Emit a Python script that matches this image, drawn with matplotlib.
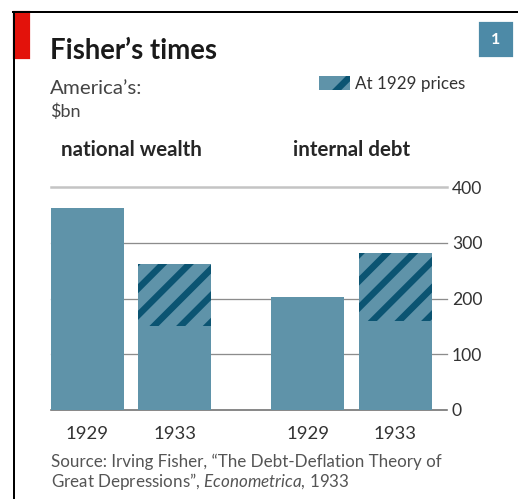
import matplotlib
matplotlib.use("Agg")
import matplotlib.pyplot as plt
import matplotlib.transforms as mtransforms
from matplotlib.patches import Patch, Rectangle
from matplotlib.lines import Line2D

# data ($bn)
groups = ["national wealth", "internal debt"]
years = ["1929", "1933", "1929", "1933"]
current_prices = [362, 150, 203, 160]
at_1929_prices = [362, 262, 203, 282]
yticks = [0, 100, 200, 300, 400]

DPI = 160
W, H = 518, 499


def pt(px):
    # pixel size -> points at this dpi
    return px * 72 / DPI


TEAL = "#5f93a9"
DARK = "#0b5472"

plt.rcParams["font.family"] = ["Lato", "DejaVu Sans"]
plt.rcParams["mathtext.fontset"] = "custom"
plt.rcParams["mathtext.it"] = "Lato:italic"
plt.rcParams["mathtext.rm"] = "Lato"
plt.rcParams["hatch.linewidth"] = pt(6.5)

fig = plt.figure(figsize=(W / DPI, H / DPI), dpi=DPI)
ax = fig.add_axes([51 / W, 1 - 410 / H, 396 / W, 223 / H])

positions = [0, 1, 2.52, 3.52]
width = 0.834
ax.set_xlim(-width / 2, 4.109)
ax.set_ylim(0, 400)

for y in yticks:
    if y == 400:
        c, lw = "#c4c4c4", pt(2.5)
    elif y == 0:
        c, lw = "#6e6e6e", pt(1.6)
    else:
        c, lw = "#8c8c8c", pt(1.3)
    ax.axhline(y, color=c, lw=lw, zorder=0, clip_on=False)

totals = [max(a, b) for a, b in zip(current_prices, at_1929_prices)]
extra = [b - a for a, b in zip(current_prices, at_1929_prices)]
ax.bar(positions, totals, width=width, color=TEAL, zorder=2)
ax.bar(positions, extra, bottom=current_prices, width=width, facecolor="none",
       edgecolor=DARK, hatch="//", lw=0, zorder=3)

for s in ax.spines.values():
    s.set_visible(False)
ax.yaxis.tick_right()
ax.set_yticks(yticks)
ax.tick_params(axis="y", length=0, pad=pt(5), labelsize=pt(17.5), labelcolor="#333333")
ax.set_xticks(positions, years)
ax.tick_params(axis="x", length=0, pad=pt(16), labelsize=pt(18.5), labelcolor="#333333")

trans = mtransforms.blended_transform_factory(ax.transData, fig.transFigure)
centers = [(positions[0] + positions[1]) / 2, (positions[2] + positions[3]) / 2]
for cx, name in zip(centers, groups):
    ax.text(cx, 1 - 156 / H, name, transform=trans, ha="center", va="baseline",
            fontsize=pt(20.5), fontweight="bold", color="#262626")

fig.text(50 / W, 1 - 59 / H, "Fisher\u2019s times", fontsize=pt(27.5), fontweight="bold",
         color="#1a1a1a", va="baseline")
fig.text(50 / W, 1 - 94 / H, "America\u2019s:", fontsize=pt(20.5), color="#444444", va="baseline")
fig.text(50 / W, 1 - 117 / H, r"\$bn", fontsize=pt(18), color="#444444", va="baseline")

fig.text(51 / W, 1 - 467 / H, "Source: Irving Fisher, \u201cThe Debt-Deflation Theory of",
         fontsize=pt(17), color="#555555", va="baseline")
fig.text(51 / W, 1 - 487 / H, "Great Depressions\u201d, $\\mathit{Econometrica}$, 1933",
         fontsize=pt(17), color="#555555", va="baseline")

fig.legend(handles=[Patch(facecolor=TEAL, edgecolor=DARK, hatch="/", lw=0)],
           labels=["At 1929 prices"], loc="center left",
           bbox_to_anchor=(319 / W, 1 - 84 / H), frameon=False,
           fontsize=pt(17), handlelength=31 / 17, handleheight=14 / 17,
           handletextpad=0.3, borderpad=0, borderaxespad=0, labelcolor="#333333")

# frame, red tab and chart number box
fig.add_artist(Line2D([13.5 / W, 13.5 / W], [1 - 12 / H, 0], color="black", lw=pt(2)))
fig.add_artist(Line2D([13 / W, 1], [1 - 12 / H, 1 - 12 / H], color="black", lw=pt(2)))
fig.add_artist(Rectangle((14 / W, 1 - 58 / H), 15 / W, 46 / H, transform=fig.transFigure,
                         color="#e3120b"))
fig.add_artist(Rectangle((480 / W, 1 - 56 / H), 32 / W, 33 / H, transform=fig.transFigure,
                         color="#4d8aa7"))
fig.text(496 / W, 1 - 39.5 / H, "1", ha="center", va="center", color="white",
         fontweight="bold", fontsize=pt(16))

fig.savefig("out.png", dpi=DPI)
